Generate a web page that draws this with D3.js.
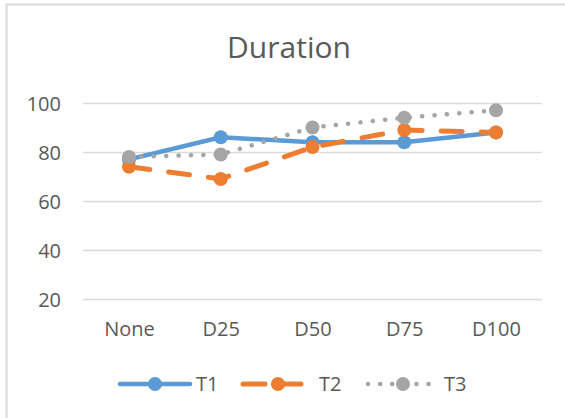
<!DOCTYPE html>
<html><head><meta charset="utf-8">
<script src="https://cdn.jsdelivr.net/npm/d3@7"></script>
<style>body{margin:0;background:#fff}svg{display:block}text{font-family:"Open Sans","Noto Sans",sans-serif;fill:#595959}</style>
</head><body><svg id="c" width="565" height="418"></svg>
<script>
const categories = ["None","D25","D50","D75","D100"];
const seriesNames = ["T1","T2","T3"];
const t1 = [77, 86, 84, 84, 88];
const t2 = [74, 69, 82, 89, 88];
const t3 = [78, 79, 90, 94, 97];
const yTicks = [20,40,60,80,100];
const colors = ["#5b9bd5","#ed7d31","#a5a5a5"];
const dashes = [null, "21,19", "0.1,12.3"];
const widths = [4.5, 5, 4.5];

const svg = d3.select("#c");
svg.append("rect").attr("x",6.5).attr("y",4.5).attr("width",600).attr("height",600)
  .attr("fill","none").attr("stroke","#d9d9d9").attr("stroke-width",2);

const x = d3.scalePoint().domain(categories).range([129,496]);
const y = d3.scaleLinear().domain([20,100]).range([299,103]);

svg.append("text").attr("x",289).attr("y",58).attr("text-anchor","middle")
  .style("font-size","30px").text("Duration");

const yAxis = d3.axisLeft(y).tickValues(yTicks).tickSize(-459).tickPadding(10);
const gy = svg.append("g").attr("transform","translate(83,0)").call(yAxis);
gy.attr("font-size",null).attr("font-family",null);
gy.select(".domain").remove();
gy.selectAll("line").attr("stroke","#d9d9d9").attr("stroke-width",1.5);
gy.selectAll("text").style("font-size","20px").attr("fill","#595959").attr("dy","0.35em").attr("x",-22);

const xAxis = d3.axisBottom(x).tickSize(0).tickPadding(20);
const gx = svg.append("g").attr("transform","translate(0,299)").call(xAxis);
gx.attr("font-size",null).attr("font-family",null);
gx.select(".domain").remove();
gx.selectAll("text").style("font-size","20px").attr("fill","#595959").attr("dy",null).attr("y",37);

const data = [t1,t2,t3];
const line = d3.line().x((d,i)=>x(categories[i])).y(d=>y(d));
data.forEach((s,k)=>{
  const p = svg.append("path").datum(s).attr("d",line).attr("fill","none")
    .attr("stroke",colors[k]).attr("stroke-width",widths[k]).attr("stroke-linecap","round").attr("stroke-linejoin","round");
  if (dashes[k]) p.attr("stroke-dasharray",dashes[k]);
  svg.append("g").selectAll("circle").data(s).join("circle")
    .attr("cx",(d,i)=>x(categories[i])).attr("cy",d=>y(d)).attr("r",7).attr("fill",colors[k]);
});

// legend
const legX = [120, 243, 368];
seriesNames.forEach((n,k)=>{
  const g = svg.append("g").attr("transform",`translate(${legX[k]},384)`);
  const l = g.append("line").attr("x1",0).attr("x2",70).attr("y1",0).attr("y2",0)
    .attr("stroke",colors[k]).attr("stroke-width",widths[k]).attr("stroke-linecap","round");
  if (k===1) l.attr("stroke-dasharray","22,14");
  if (k===2) l.attr("stroke-dasharray","0.1,12");
  g.append("circle").attr("cx",35).attr("cy",0).attr("r",7).attr("fill",colors[k]);
  g.append("text").attr("x",76).attr("y",0).attr("dy","0.35em").style("font-size","20px").text(n);
});
</script></body></html>
